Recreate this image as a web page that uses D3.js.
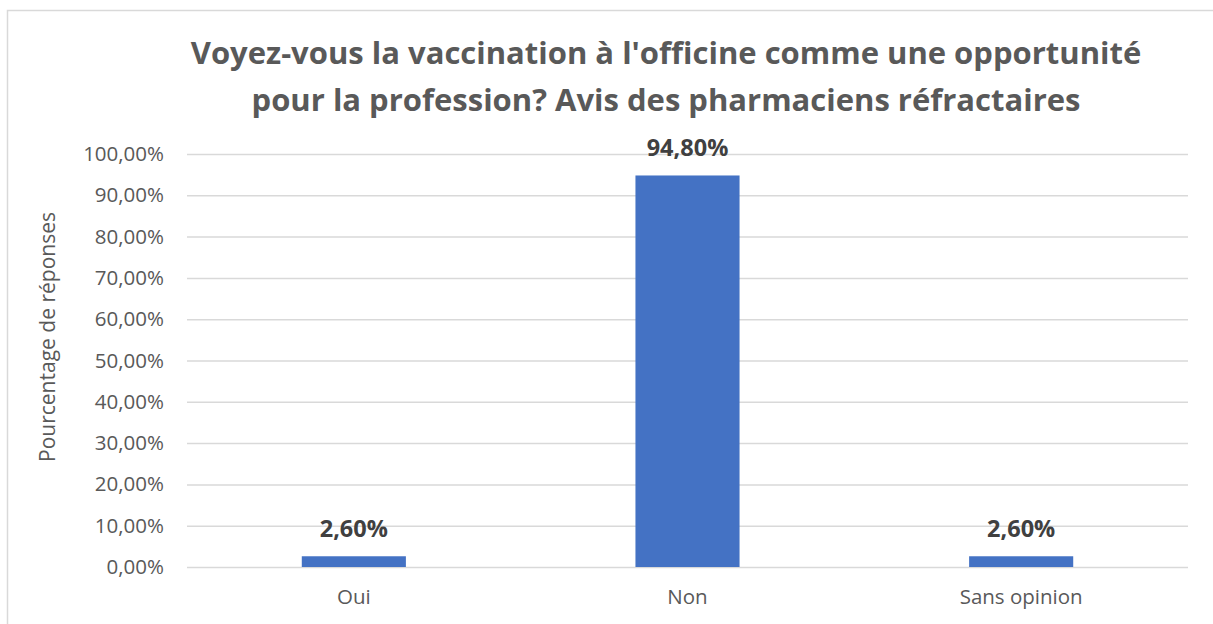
<!DOCTYPE html>
<html>
<head>
<meta charset="utf-8">
<script src="https://cdn.jsdelivr.net/npm/d3@7"></script>
<style>
  body { margin: 0; background: #fff; }
  svg { display: block; font-family: "Open Sans", Lato, sans-serif; }
</style>
</head>
<body>
<svg id="chart" width="1213" height="624"></svg>
<script>
// Survey answers and their share of responses (%)
const categories = ["Oui", "Non", "Sans opinion"];
const values = [2.6, 94.8, 2.6];
const yTicks = [0, 10, 20, 30, 40, 50, 60, 70, 80, 90, 100];
const titleLines = [
  "Voyez-vous la vaccination à l'officine comme une opportunité",
  "pour la profession? Avis des pharmaciens réfractaires"
];
const yAxisTitle = "Pourcentage de réponses";

const fmt = v => v.toFixed(2).replace(".", ",") + "%";

const svg = d3.select("#chart");
const margin = { left: 187, right: 1188, top: 154, bottom: 567 };

// Outer chart frame
svg.append("rect")
  .attr("x", 7.5).attr("y", 10.5)
  .attr("width", 1230).attr("height", 640)
  .attr("fill", "#fff").attr("stroke", "#d9d9d9").attr("stroke-width", 1.5);

const x = d3.scaleBand().domain(categories).range([margin.left, margin.right]).paddingInner(0.688).paddingOuter(0.344);
const y = d3.scaleLinear().domain([0, 100]).range([margin.bottom, margin.top]);

// Horizontal gridlines + tick labels
const yAxis = d3.axisLeft(y).tickValues(yTicks).tickFormat(fmt)
  .tickSize(-(margin.right - margin.left)).tickPadding(23);
const gy = svg.append("g").attr("transform", `translate(${margin.left},0)`).call(yAxis);
gy.select(".domain").remove();
gy.selectAll(".tick line").attr("stroke", "#d9d9d9").attr("stroke-width", 1.5);
gy.selectAll(".tick text").attr("fill", "#595959").attr("font-size", 20.5)
  .attr("x", -23).attr("font-family", "'Open Sans', sans-serif");

// Category labels
const xAxis = d3.axisBottom(x).tickSize(0).tickPadding(22);
const gx = svg.append("g").attr("transform", `translate(0,${margin.bottom})`).call(xAxis);
gx.select(".domain").remove();
gx.selectAll(".tick text").attr("fill", "#595959").attr("font-size", 20.5)
  .attr("font-family", "'Open Sans', sans-serif");

// Bars
svg.append("g").selectAll("rect").data(values).join("rect")
  .attr("x", (d, i) => x(categories[i]))
  .attr("width", x.bandwidth())
  .attr("y", d => y(d))
  .attr("height", d => y(0) - y(d))
  .attr("fill", "#4472c4");

// Value labels
svg.append("g").selectAll("text").data(values).join("text")
  .attr("x", (d, i) => x(categories[i]) + x.bandwidth() / 2)
  .attr("y", d => y(d) - 19)
  .attr("text-anchor", "middle")
  .attr("font-size", 23.5).attr("font-weight", "bold").attr("fill", "#404040")
  .text(fmt);

// Title
svg.append("g").selectAll("text").data(titleLines).join("text")
  .attr("x", 666).attr("y", (d, i) => 64 + i * 47)
  .attr("text-anchor", "middle")
  .attr("font-size", 31).attr("font-weight", "bold").attr("fill", "#595959")
  .text(d => d);

// Y-axis title
svg.append("text")
  .attr("transform", "translate(55,337) rotate(-90)")
  .attr("text-anchor", "middle")
  .attr("font-size", 21).attr("fill", "#595959")
  .text(yAxisTitle);
</script>
</body>
</html>
